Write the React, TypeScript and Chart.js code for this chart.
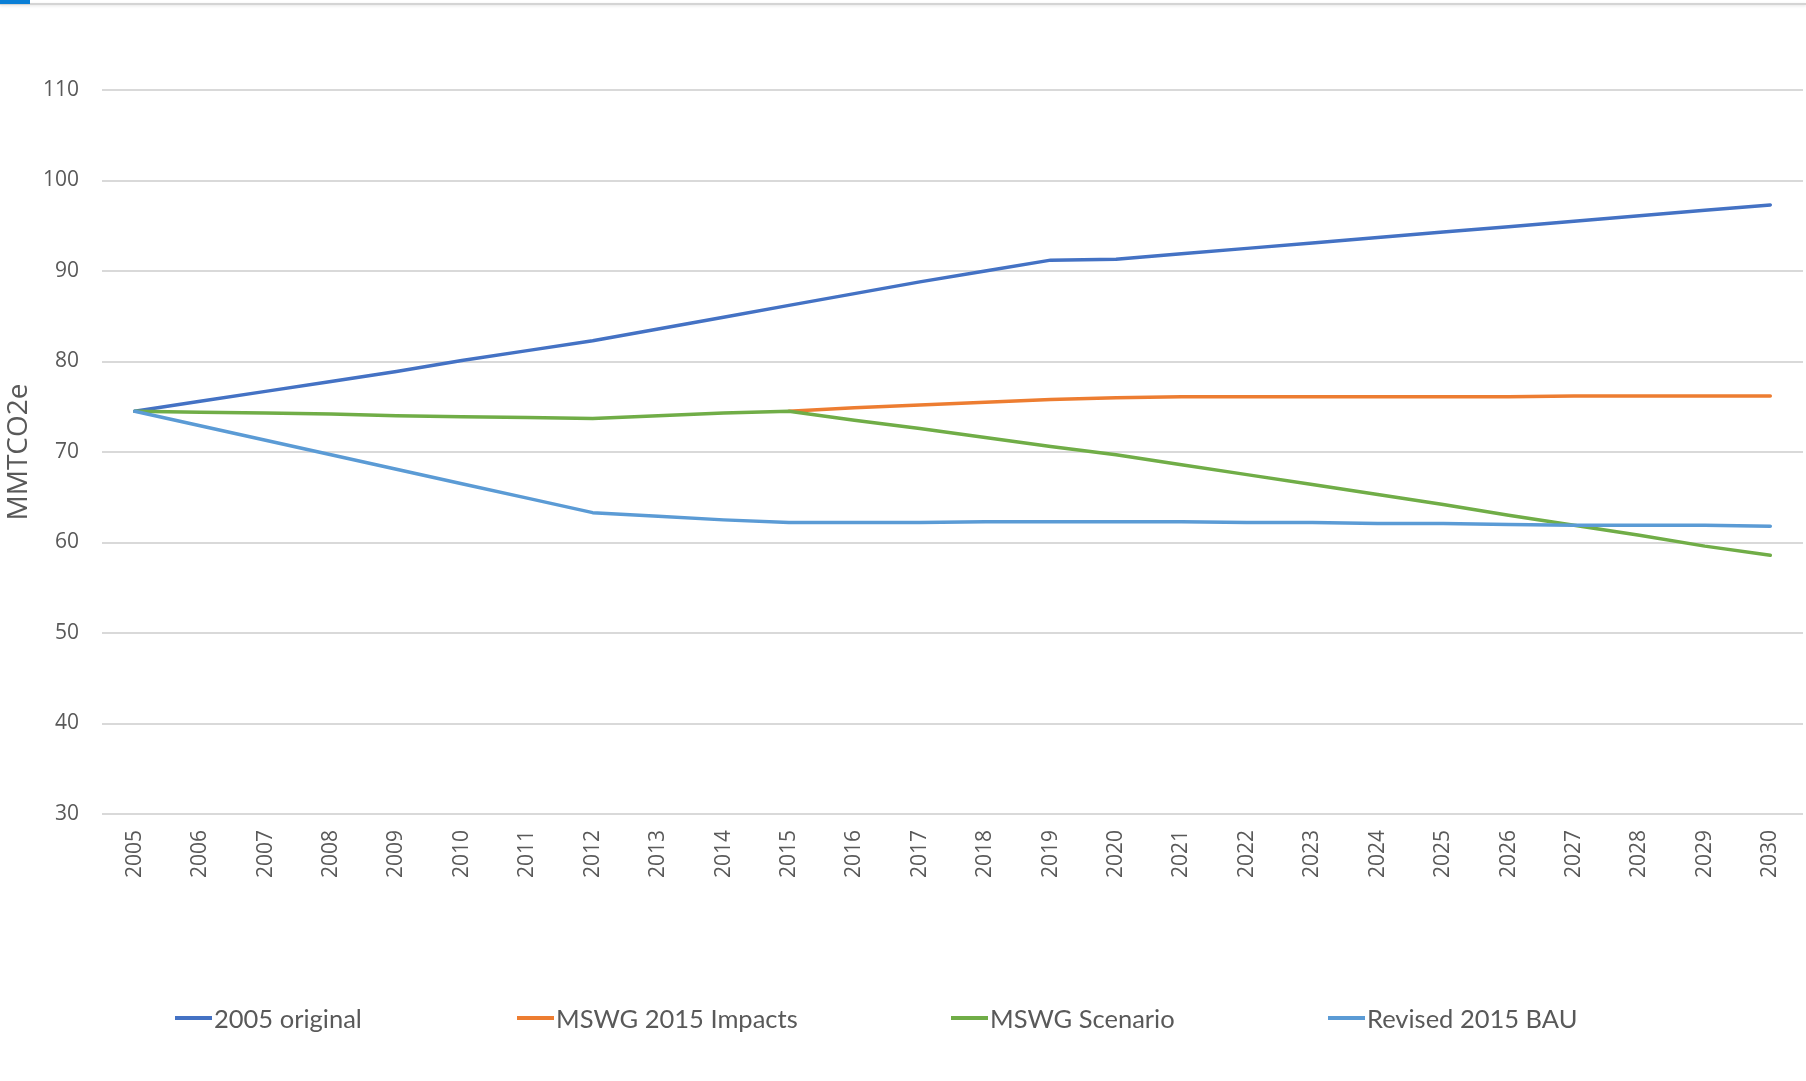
import React, { useEffect, useRef } from "react";
import { Chart, registerables } from "chart.js";

Chart.register(...registerables);

// Emissions projections, MMTCO2e, 2005–2030
const years: string[] = [
  "2005", "2006", "2007", "2008", "2009", "2010", "2011", "2012", "2013",
  "2014", "2015", "2016", "2017", "2018", "2019", "2020", "2021", "2022",
  "2023", "2024", "2025", "2026", "2027", "2028", "2029", "2030",
];

const original2005: number[] = [
  74.5, 75.6, 76.7, 77.8, 78.9, 80.1, 81.2, 82.3, 83.6, 84.9, 86.2, 87.5,
  88.8, 90.0, 91.2, 91.3, 91.9, 92.5, 93.1, 93.7, 94.3, 94.9, 95.5, 96.1,
  96.7, 97.3,
];

const mswg2015Impacts: (number | null)[] = [
  null, null, null, null, null, null, null, null, null, null, 74.5, 74.9,
  75.2, 75.5, 75.8, 76.0, 76.1, 76.1, 76.1, 76.1, 76.1, 76.1, 76.2, 76.2,
  76.2, 76.2,
];

const mswgScenario: number[] = [
  74.5, 74.4, 74.3, 74.2, 74.0, 73.9, 73.8, 73.7, 74.0, 74.3, 74.5, 73.5,
  72.6, 71.6, 70.6, 69.7, 68.6, 67.5, 66.4, 65.3, 64.2, 63.0, 61.9, 60.8,
  59.6, 58.6,
];

const revised2015Bau: number[] = [
  74.5, 72.9, 71.3, 69.7, 68.1, 66.5, 64.9, 63.3, 62.9, 62.5, 62.2, 62.2,
  62.2, 62.3, 62.3, 62.3, 62.3, 62.2, 62.2, 62.1, 62.1, 62.0, 61.9, 61.9,
  61.9, 61.8,
];

const seriesNames: string[] = [
  "2005 original",
  "MSWG 2015 Impacts",
  "MSWG Scenario",
  "Revised 2015 BAU",
];

const seriesColors: string[] = ["#4472C4", "#ED7D31", "#70AD47", "#5B9BD5"];

const yMin = 30;
const yMax = 110;
const yStep = 10;
const yTitle = "MMTCO2e";

const W = 1806;
const H = 1081;
const TEXT = "#595959";
const legendLeft = [175, 517, 951, 1328];

export default function App() {
  const canvasRef = useRef<HTMLCanvasElement | null>(null);

  useEffect(() => {
    document.body.style.margin = "0";
    const canvas = canvasRef.current;
    if (!canvas) return;
    const seriesValues = [original2005, mswg2015Impacts, mswgScenario, revised2015Bau];

    const chart = new Chart(canvas, {
      type: "line",
      data: {
        labels: years,
        datasets: seriesValues.map((vals, i) => ({
          label: seriesNames[i],
          data: vals,
          borderColor: seriesColors[i],
          backgroundColor: seriesColors[i],
          borderWidth: 3.5,
          pointRadius: 0,
          pointHoverRadius: 0,
          tension: 0,
          fill: false,
          spanGaps: false,
          borderJoinStyle: "round" as const,
          borderCapStyle: "round" as const,
          order: seriesValues.length - 1 - i,
        })),
      },
      options: {
        responsive: false,
        animation: false,
        devicePixelRatio: 1,
        layout: { padding: { left: 0, right: 3, top: 90, bottom: 167 } },
        plugins: {
          legend: { display: false },
          tooltip: { enabled: false },
          title: { display: false },
        },
        scales: {
          x: {
            type: "category",
            offset: true,
            grid: { display: false, drawTicks: false },
            border: { display: false },
            ticks: {
              minRotation: 90,
              maxRotation: 90,
              autoSkip: false,
              padding: 16,
              color: TEXT,
              font: { family: "'Open Sans', sans-serif", size: 21 },
            },
            afterFit: (scale: any) => {
              scale.height = 100;
              scale.paddingLeft = 0;
              scale.paddingRight = 0;
            },
          },
          y: {
            min: yMin,
            max: yMax,
            grid: { color: "#d9d9d9", lineWidth: 2, drawTicks: false },
            border: { display: false },
            ticks: {
              stepSize: yStep,
              padding: 23,
              color: TEXT,
              font: { family: "'Open Sans', sans-serif", size: 21 },
            },
            title: {
              display: true,
              text: yTitle,
              color: TEXT,
              font: { family: "'Open Sans', sans-serif", size: 28 },
              padding: { top: 2, bottom: 0 },
            },
            afterFit: (scale: any) => {
              scale.width = 102;
            },
          },
        },
      },
    });
    return () => chart.destroy();
  }, []);

  return (
    <div
      style={{
        position: "absolute",
        left: 0,
        top: 0,
        width: W,
        height: H,
        background: "#fff",
        overflow: "hidden",
      }}
    >
      <div
        style={{
          position: "absolute",
          left: 0,
          top: 3,
          width: W,
          height: 2,
          background: "#d4d4d4",
          boxShadow: "0 1px 3px rgba(0,0,0,0.12)",
        }}
      />
      <div
        style={{
          position: "absolute",
          left: 0,
          top: 0,
          width: 30,
          height: 4,
          background: "#0a7fd6",
        }}
      />
      <canvas
        ref={canvasRef}
        width={W}
        height={H}
        style={{ position: "absolute", left: 0, top: 0, width: W, height: H }}
      />
      {seriesNames.map((name, i) => (
        <div
          key={name}
          style={{
            position: "absolute",
            left: legendLeft[i],
            top: 1018 - 18,
            height: 36,
            display: "flex",
            alignItems: "center",
            fontFamily: "Lato, 'Open Sans', sans-serif",
            fontSize: 25.5,
            color: TEXT,
            whiteSpace: "nowrap",
          }}
        >
          <span
            style={{
              display: "inline-block",
              width: 37,
              height: 3.5,
              background: seriesColors[i],
              marginRight: 2,
            }}
          />
          <span>{name}</span>
        </div>
      ))}
    </div>
  );
}
